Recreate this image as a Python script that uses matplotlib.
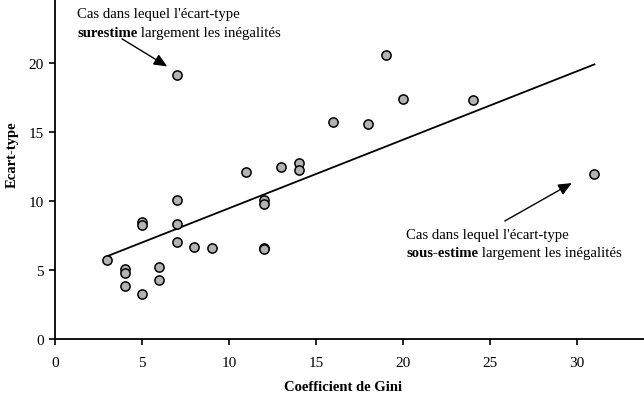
import matplotlib
matplotlib.use("Agg")
import matplotlib.pyplot as plt
import numpy as np

# Data
gini = [3, 4, 4, 4, 5, 5, 5, 6, 6, 7, 7, 7, 7, 8, 9, 11, 12, 12, 12, 12,
        13, 14, 14, 16, 18, 19, 20, 24, 31]
ecart = [5.7, 5.05, 4.8, 3.85, 8.5, 8.25, 3.25, 5.25, 4.3, 19.1, 10.05, 8.3, 7.0,
         6.65, 6.6, 12.1, 10.05, 9.75, 6.6, 6.5,
         12.5, 12.75, 12.25, 15.7, 15.6, 20.55, 17.4, 17.3, 11.95]
trend_x = [3, 31]
trend_y = [6.0, 19.9]

xticks = [0, 5, 10, 15, 20, 25, 30]
yticks = [0, 5, 10, 15, 20, 25]

plt.rcParams['font.family'] = ['Liberation Serif', 'DejaVu Serif']

fig = plt.figure(figsize=(6.44, 4.14), dpi=100)
ax = fig.add_axes([55/644, 74/414, 1 - 55/644, 345/414])
ax.set_xlim(0, 33.85)
ax.set_ylim(0, 25)

ax.plot(trend_x, trend_y, color='black', lw=1.3, zorder=2)
ax.scatter(gini, ecart, s=44, facecolor='#b3b3b3', edgecolor='black',
           linewidth=1.1, zorder=3)

for s in ['top', 'right']:
    ax.spines[s].set_visible(False)
for s in ['left', 'bottom']:
    ax.spines[s].set_linewidth(1.3)
    ax.spines[s].set_zorder(1)

ax.set_xticks(xticks)
ax.set_yticks(yticks)
ax.tick_params(axis='both', direction='out', length=4, width=1.2,
               labelsize=11)
ax.tick_params(axis='x', pad=8)
ax.tick_params(axis='y', pad=4)

ax.set_xlabel('Coefficient de Gini', fontsize=10.5, fontweight='bold')
ax.set_ylabel('Ecart-type', fontsize=10.5, fontweight='bold')
ax.xaxis.set_label_coords(0.489, -0.137)
ax.xaxis.label.set_va('center')
ax.yaxis.set_label_coords(-0.073, 0.537)
ax.yaxis.label.set_va('center')

fs = 10.65
# Top annotation
ax.text(1.27, 23.6, "Cas dans lequel l'écart-type", fontsize=fs, va='center', ha='left')
t1 = ax.text(1.27, 22.2, "surestime", fontsize=fs, fontweight='bold', va='center', ha='left')
ax.annotate(" largement les inégalités", xy=(1, 0.5), xycoords=t1, fontsize=fs,
            va='center', ha='left')
ax.annotate('', xy=(6.45, 19.75), xytext=(3.85, 21.75),
            arrowprops=dict(arrowstyle='-|>,head_length=0.8,head_width=0.35',
                            color='black', lw=1.0, shrinkA=0, shrinkB=0))

# Bottom annotation
ax.text(20.2, 7.6, "Cas dans lequel l'écart-type", fontsize=fs, va='center', ha='left')
t2 = ax.text(20.2, 6.25, "sous-estime", fontsize=fs, fontweight='bold', va='center', ha='left')
ax.annotate(" largement les inégalités", xy=(1, 0.5), xycoords=t2, fontsize=fs,
            va='center', ha='left')
ax.annotate('', xy=(29.7, 11.3), xytext=(25.85, 8.55),
            arrowprops=dict(arrowstyle='-|>,head_length=0.8,head_width=0.35',
                            color='black', lw=1.0, shrinkA=0, shrinkB=0))

fig.savefig('out.png', dpi=100)
